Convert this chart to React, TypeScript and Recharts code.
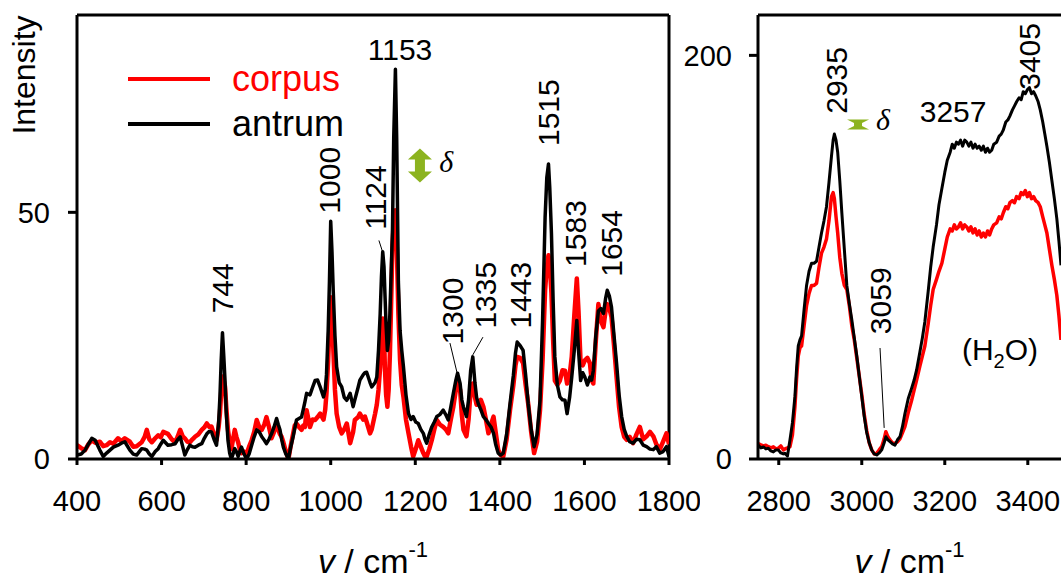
import React from 'react';
import { LineChart, Line, XAxis, YAxis, ReferenceLine, ReferenceDot, Legend } from 'recharts';

// ---------- Left panel (fingerprint region) ----------
const leftWavenumber = [
  400, 410, 419, 427, 435, 443, 454, 462, 470, 478, 486, 497, 505, 513, 525, 533, 541, 553, 560, 565,
  571, 577, 585, 592, 598, 604, 615, 624, 632, 638, 644, 650, 655, 661, 667, 673, 679, 687, 695, 701,
  707, 713, 718, 724, 730, 735, 738, 741, 744, 747, 750, 753, 757, 761, 765, 769, 773, 777, 781, 785,
  789, 795, 801, 807, 813, 819, 825, 831, 837, 843, 848, 854, 860, 866, 872, 876, 880, 884, 888, 894,
  900, 905, 911, 915, 919, 925, 931, 935, 939, 943, 951, 957, 963, 969, 975, 983, 987, 990, 994, 997,
  1000, 1003, 1006, 1010, 1014, 1020, 1026, 1032, 1038, 1046, 1053, 1057, 1065, 1069, 1077, 1081, 1085, 1093, 1097, 1105,
  1109, 1113, 1117, 1120, 1123, 1126, 1128, 1131, 1134, 1137, 1140, 1143, 1146, 1149, 1153, 1156, 1160, 1164, 1168, 1172,
  1178, 1184, 1190, 1195, 1201, 1207, 1213, 1219, 1223, 1227, 1233, 1239, 1245, 1251, 1258, 1266, 1272, 1278, 1284, 1290,
  1296, 1300, 1306, 1310, 1314, 1321, 1326, 1331, 1336, 1341, 1345, 1349, 1355, 1361, 1367, 1373, 1379, 1385, 1390, 1396,
  1402, 1408, 1416, 1424, 1432, 1437, 1441, 1448, 1455, 1461, 1467, 1474, 1481, 1488, 1495, 1501, 1507, 1511, 1515, 1518,
  1522, 1526, 1530, 1536, 1542, 1548, 1554, 1559, 1565, 1570, 1576, 1582, 1586, 1591, 1596, 1601, 1607, 1613, 1617, 1621,
  1627, 1633, 1639, 1645, 1650, 1654, 1659, 1664, 1670, 1676, 1682, 1688, 1694, 1700, 1707, 1715, 1723, 1731, 1739, 1747,
  1755, 1763, 1770, 1778, 1786, 1794, 1800,
];
const leftCorpus = [
  2.8, 2.2, 1.8, 3.0, 3.8, 3.3, 3.5, 2.6, 2.8, 3.4, 3.1, 4.2, 3.6, 4.2, 3.5, 2.5, 2.6, 3.4, 4.5, 5.9,
  4.0, 3.4, 4.2, 4.8, 4.4, 5.5, 5.1, 4.0, 3.4, 4.5, 5.9, 4.6, 4.2, 3.5, 3.4, 4.0, 4.5, 5.0, 5.9, 6.4,
  7.2, 6.5, 6.6, 5.0, 3.8, 6.5, 9.2, 13.5, 16.7, 16.0, 14.7, 10.5, 5.9, 3.5, 2.0, 4.0, 5.9, 4.5, 3.4, 2.0,
  1.2, 1.5, 1.0, 2.5, 3.8, 5.5, 7.9, 6.5, 5.9, 7.0, 8.5, 6.5, 4.2, 5.5, 7.2, 6.0, 5.0, 4.5, 3.4, 1.5,
  0.0, 2.5, 5.1, 6.8, 7.2, 6.5, 5.9, 6.8, 6.5, 9.9, 6.5, 8.0, 7.9, 8.5, 9.2, 8.0, 10.0, 13.3, 20.0, 27.0,
  32.8, 28.0, 22.7, 14.0, 9.2, 6.5, 5.2, 6.0, 7.2, 3.2, 5.5, 7.9, 8.5, 9.2, 8.0, 8.6, 7.5, 5.2, 6.0, 9.2,
  11.0, 14.0, 18.7, 25.0, 28.5, 26.0, 18.7, 13.0, 10.6, 14.0, 21.3, 32.0, 43.0, 48.5, 50.4, 44.0, 29.5, 20.0, 15.0, 12.6,
  8.0, 5.2, 2.5, 0.5, 2.0, 3.8, 2.5, 1.2, 0.5, 0.5, 2.0, 3.8, 6.0, 7.9, 7.0, 6.5, 6.0, 5.2, 8.0, 10.6,
  14.0, 16.0, 14.0, 9.0, 5.9, 4.6, 8.0, 14.0, 15.3, 12.5, 11.0, 11.2, 12.0, 10.6, 8.0, 5.2, 7.0, 8.6, 5.5, 1.9,
  0.8, 0.5, 4.0, 9.9, 15.0, 19.0, 20.7, 20.5, 19.4, 15.0, 11.2, 5.5, 1.2, 3.5, 9.9, 20.0, 34.2, 39.0, 41.3, 39.5,
  33.6, 24.0, 15.9, 15.0, 15.9, 18.0, 17.9, 15.3, 17.0, 20.7, 29.0, 36.6, 30.0, 19.4, 19.0, 20.0, 20.5, 19.4, 16.0, 15.3,
  24.0, 31.4, 28.0, 26.7, 30.0, 31.4, 30.5, 28.8, 23.0, 16.6, 10.5, 6.5, 4.5, 3.9, 4.5, 3.2, 5.0, 6.5, 4.0, 4.6,
  5.5, 4.6, 3.0, 1.9, 3.5, 5.2, 3.0,
];
const leftAntrum = [
  0.8, 1.0, 1.8, 3.0, 4.2, 3.8, 1.8, 0.5, 1.2, 1.8, 2.4, 2.8, 3.2, 3.5, 1.8, 1.0, 0.8, 2.1, 2.0, 1.8,
  1.0, 0.5, 1.5, 2.1, 3.0, 3.8, 2.8, 2.9, 3.1, 3.9, 4.5, 2.5, 0.8, 1.9, 2.8, 2.5, 2.4, 2.8, 3.1, 4.2,
  5.1, 5.6, 5.5, 4.0, 2.8, 7.5, 12.6, 20.0, 25.6, 21.0, 16.0, 9.5, 3.8, 1.2, 0.0, 1.0, 2.1, 1.5, 0.5, 1.5,
  2.4, 1.0, 0.0, 1.0, 2.8, 4.5, 5.9, 5.5, 4.5, 3.8, 3.1, 4.0, 5.1, 6.5, 8.2, 7.0, 5.9, 4.0, 2.4, 1.0,
  0.0, 2.2, 4.5, 6.2, 7.9, 8.2, 8.5, 10.0, 11.6, 13.3, 13.0, 14.5, 15.9, 16.0, 14.6, 12.6, 14.0, 17.1, 26.0, 36.0,
  48.2, 42.0, 34.0, 25.0, 18.7, 15.5, 14.6, 12.5, 11.9, 13.3, 10.6, 12.0, 14.6, 16.0, 17.1, 17.5, 17.6, 15.5, 14.6, 15.5,
  16.6, 22.0, 29.5, 37.0, 42.0, 39.0, 34.0, 27.0, 22.0, 24.0, 29.5, 38.0, 46.0, 65.0, 79.0, 65.0, 36.0, 26.0, 22.0, 18.7,
  13.0, 9.2, 8.0, 8.6, 7.5, 7.2, 6.0, 5.2, 4.0, 3.2, 5.0, 6.5, 7.5, 8.6, 9.0, 9.9, 9.0, 7.9, 10.5, 13.3,
  16.0, 17.4, 15.3, 12.0, 10.5, 8.6, 12.0, 18.0, 20.7, 15.5, 12.5, 11.2, 10.0, 8.6, 8.0, 7.2, 6.5, 5.2, 3.0, 1.2,
  0.8, 1.2, 5.0, 11.2, 17.0, 21.5, 23.7, 23.0, 22.0, 17.0, 11.2, 6.0, 2.5, 5.0, 11.9, 28.0, 49.0, 57.0, 59.8, 55.0,
  45.7, 32.0, 20.7, 15.0, 12.6, 12.0, 11.9, 9.2, 12.5, 16.6, 22.0, 28.1, 22.0, 15.9, 17.5, 16.6, 15.0, 16.6, 16.0, 17.9,
  25.0, 30.0, 30.5, 29.5, 32.5, 34.2, 33.0, 30.8, 25.0, 19.4, 13.0, 8.6, 6.0, 4.6, 3.5, 3.2, 4.0, 3.9, 2.8, 2.5,
  2.0, 1.9, 2.5, 1.2, 1.5, 2.5, 0.5,
];

// ---------- Right panel (high wavenumber region) ----------
const rightWavenumber = [
  2750, 2757, 2763, 2769, 2775, 2781, 2787, 2793, 2799, 2805, 2811, 2815, 2821, 2827, 2833, 2839, 2843, 2847, 2851, 2855,
  2861, 2867, 2873, 2879, 2885, 2891, 2897, 2903, 2909, 2915, 2921, 2927, 2931, 2934, 2938, 2942, 2947, 2952, 2958, 2964,
  2970, 2976, 2982, 2988, 2994, 3000, 3006, 3012, 3018, 3024, 3030, 3036, 3042, 3048, 3054, 3058, 3063, 3068, 3074, 3080,
  3086, 3092, 3098, 3104, 3112, 3120, 3126, 3132, 3140, 3146, 3152, 3160, 3166, 3172, 3180, 3186, 3193, 3200, 3206, 3213,
  3218, 3223, 3228, 3233, 3238, 3243, 3248, 3253, 3258, 3263, 3268, 3273, 3278, 3283, 3288, 3293, 3298, 3303, 3308, 3313,
  3318, 3325, 3331, 3336, 3341, 3347, 3352, 3357, 3363, 3368, 3373, 3379, 3384, 3389, 3394, 3399, 3404, 3409, 3414, 3419,
  3425, 3430, 3436, 3441, 3446, 3452, 3458, 3464, 3470, 3475, 3480,
];
const rightCorpus = [
  7.7, 7.0, 6.5, 6.8, 6.1, 5.5, 6.0, 5.0, 5.3, 6.5, 4.5, 5.0, 5.5, 6.1, 12, 26, 40, 51, 55, 56,
  66, 76, 82, 86, 86, 87, 95, 102, 105, 109, 118, 130, 132, 129, 120, 112, 100, 92, 86, 84,
  76, 66, 59, 50, 41, 32, 22, 14, 8, 4.5, 2.5, 2.8, 4.5, 6.1, 10, 13.5, 11, 9.4, 8, 7.7,
  8.5, 10, 13, 16, 23, 29, 34, 39, 46, 51, 56, 67, 76, 84, 89, 93, 97, 104, 110, 114,
  113, 116, 114, 115, 117, 114, 116, 115, 113, 115, 112, 114, 111, 113, 110, 112, 110, 113, 111, 114,
  116, 117, 120, 119, 122, 125, 124, 127, 128, 127, 130, 129, 132, 131, 133, 130, 132, 129, 130, 128,
  127, 125, 120, 116, 112, 104, 96, 89, 81, 71, 59,
];
const rightAntrum = [
  6.9, 5.5, 6.0, 5.0, 5.3, 4.0, 3.5, 4.5, 4.5, 3.0, 2.5, 2.8, 1.5, 9.4, 18, 31, 45, 56, 59, 61,
  74, 86, 93, 97, 97, 98, 105, 112, 118, 125, 137, 150, 158, 161, 158, 152, 138, 122, 104, 86,
  77, 69, 60, 51, 41, 31, 21, 13, 8, 4.5, 2.5, 2.0, 3.0, 4.5, 8, 11, 9.5, 8.6, 7.5, 6.9,
  9.5, 11, 16, 22.5, 30, 35, 39, 44, 53, 60, 68, 83, 95, 105, 116, 126, 134, 142, 148, 152,
  156, 154, 157, 156, 158, 155, 158, 157, 155, 157, 154, 156, 154, 155, 153, 155, 152, 154, 152, 153,
  156, 157, 160, 161, 163, 167, 168, 170, 173, 175, 177, 179, 178, 182, 181, 183, 184, 181, 182, 180,
  177, 173, 167, 161, 155, 147, 138, 129, 119, 108, 96,
];

// ---------- Axes ----------
const leftXTicks = [400, 600, 800, 1000, 1200, 1400, 1600, 1800];
const leftYTicks = [0, 50];
const rightXTicks = [2800, 3000, 3200, 3400];
const rightYTicks = [0, 200];
const seriesOrder = ['corpus', 'antrum'];

// ---------- Annotations (data coordinates) ----------
const leftPeakLabels = [
  { text: '744', x: 745, y: 34.6, rotate: true },
  { text: '1000', x: 996, y: 56.5, rotate: true },
  { text: '1124', x: 1107, y: 53, rotate: true },
  { text: '1153', x: 1164, y: 83, rotate: false },
  { text: '1300', x: 1289, y: 30, rotate: true },
  { text: '1335', x: 1367, y: 33.2, rotate: true },
  { text: '1443', x: 1448, y: 33.2, rotate: true },
  { text: '1515', x: 1514, y: 70.2, rotate: true },
  { text: '1583', x: 1578, y: 45.7, rotate: true },
  { text: '1654', x: 1665, y: 43.7, rotate: true },
];
const leftLeaders = [
  { x1: 1114, y1: 44.3, x2: 1123, y2: 41.9 },
  { x1: 1282, y1: 23.5, x2: 1299, y2: 17.4 },
  { x1: 1360, y1: 24.7, x2: 1336, y2: 21.1 },
];
const rightPeakLabels = [
  { text: '2935', x: 2938, y: 187.6, rotate: true },
  { text: '3257', x: 3220, y: 172, rotate: false },
  { text: '3405', x: 3405, y: 199.5, rotate: true },
  { text: '3059', x: 3044, y: 78.4, rotate: true },
];
const rightLeaders = [{ x1: 3044, y1: 55, x2: 3054, y2: 15.4 }];
const leftDelta = { arrowX: 1211, arrowY: 59.5, textX: 1273, textY: 60.3 };
const rightDelta = { arrowX: 2991, arrowY: 165.8, textX: 3051, textY: 168 };
const waterLabel = { x: 3333, y: 54 };

const leftData = leftWavenumber.map((v, i) => ({ v, corpus: leftCorpus[i], antrum: leftAntrum[i] }));
const rightData = rightWavenumber.map((v, i) => ({ v, corpus: rightCorpus[i], antrum: rightAntrum[i] }));

const SANS = '"Liberation Sans", Arial, sans-serif';
const SERIF = '"Liberation Serif", "DejaVu Serif", serif';
const GREEN = '#8cb31f';
const TICK_FONT = 29;
const LABEL_FONT = 30;

const PeakText = (props: any) => {
  const { cx, cy, text, rotate } = props;
  if (cx == null || cy == null) return null;
  return (
    <text
      x={cx}
      y={cy}
      textAnchor="middle"
      dominantBaseline="central"
      fontSize={LABEL_FONT}
      fill="#000"
      fontFamily={SANS}
      transform={rotate ? `rotate(-90 ${cx} ${cy})` : undefined}
    >
      {text}
    </text>
  );
};

const BigArrow = (props: any) => {
  const { cx, cy } = props;
  const pts = [
    [cx, cy - 17], [cx + 12, cy - 6], [cx + 5, cy - 6], [cx + 5, cy + 6], [cx + 12, cy + 6],
    [cx, cy + 17], [cx - 12, cy + 6], [cx - 5, cy + 6], [cx - 5, cy - 6], [cx - 12, cy - 6],
  ];
  return <polygon points={pts.map((p) => p.join(',')).join(' ')} fill={GREEN} />;
};

const SmallArrow = (props: any) => {
  const { cx, cy } = props;
  const pts = [
    [cx - 11, cy - 5], [cx + 11, cy - 5], [cx + 4, cy - 1.5], [cx + 4, cy + 1.5],
    [cx + 11, cy + 5], [cx - 11, cy + 5], [cx - 4, cy + 1.5], [cx - 4, cy - 1.5],
  ];
  return <polygon points={pts.map((p) => p.join(',')).join(' ')} fill={GREEN} />;
};

const DeltaText = (props: any) => {
  const { cx, cy } = props;
  return (
    <text x={cx} y={cy} textAnchor="middle" dominantBaseline="central" fontSize={30} fontStyle="italic" fontFamily={SERIF} fill="#000">
      δ
    </text>
  );
};

const WaterText = (props: any) => {
  const { cx, cy } = props;
  return (
    <text x={cx} y={cy + 10} textAnchor="middle" fontSize={30} fontFamily={SANS} fill="#000">
      <tspan>(H</tspan>
      <tspan fontSize={20} dy={8}>2</tspan>
      <tspan dy={-8}>O)</tspan>
    </text>
  );
};

const XTitle = (props: any) => {
  const vb = props.viewBox || {};
  const cx = vb.x + vb.width / 2;
  const y = vb.y + 114;
  return (
    <text x={cx} y={y} textAnchor="middle" fontSize={34} fontFamily={SANS} fill="#000">
      <tspan fontStyle="italic">v</tspan>
      <tspan> / cm</tspan>
      <tspan fontSize={22} dy={-16}>-1</tspan>
    </text>
  );
};

const YTitle = (props: any) => {
  const vb = props.viewBox || {};
  const x = vb.x + 24;
  const y = vb.y + 60;
  return (
    <text x={x} y={y} textAnchor="middle" dominantBaseline="central" fontSize={32} fontFamily={SANS} fill="#000" transform={`rotate(-90 ${x} ${y})`}>
      Intensity
    </text>
  );
};

const LegendContent = (props: any) => {
  const payload = props.payload || [];
  const items = seriesOrder
    .map((name) => payload.find((p: any) => p.value === name))
    .filter(Boolean);
  return (
    <div style={{ fontFamily: SANS }}>
      {items.map((item: any) => (
        <div key={item.value} style={{ display: 'flex', alignItems: 'center', height: 45 }}>
          <span style={{ display: 'inline-block', width: 82, height: 4, background: item.color }} />
          <span style={{ marginLeft: 22, fontSize: 36, color: item.color, lineHeight: '45px' }}>{item.value}</span>
        </div>
      ))}
    </div>
  );
};

const axisStroke = { stroke: '#000', strokeWidth: 3 };

export default function App() {
  return (
    <div
      style={{
        position: 'absolute',
        left: 0,
        top: 0,
        width: 1061,
        height: 585,
        overflow: 'hidden',
        background: '#fff',
        fontFamily: SANS,
      }}
    >
      <div style={{ position: 'absolute', left: 0, top: 0 }}>
        <LineChart width={700} height={585} data={leftData} margin={{ top: 15, right: 31, bottom: 0, left: 0 }}>
          <XAxis
            dataKey="v"
            type="number"
            domain={[400, 1800]}
            ticks={leftXTicks}
            interval={0}
            allowDataOverflow
            height={126}
            tickSize={6}
            tickMargin={25}
            axisLine={axisStroke}
            tickLine={axisStroke}
            tick={{ fill: '#000', fontSize: TICK_FONT }}
            label={<XTitle />}
          />
          <YAxis
            type="number"
            domain={[0, 90]}
            ticks={leftYTicks}
            interval={0}
            allowDataOverflow
            width={77}
            tickSize={9}
            tickMargin={18}
            axisLine={axisStroke}
            tickLine={axisStroke}
            tick={{ fill: '#000', fontSize: TICK_FONT }}
            label={<YTitle />}
          />
          <ReferenceLine y={90} stroke="#000" strokeWidth={3} />
          <ReferenceLine x={1800} stroke="#000" strokeWidth={3} />
          <Line type="linear" dataKey="corpus" name="corpus" stroke="#ff0000" strokeWidth={4.5} dot={false} isAnimationActive={false} strokeLinejoin="round" />
          <Line type="linear" dataKey="antrum" name="antrum" stroke="#000000" strokeWidth={3.5} dot={false} isAnimationActive={false} strokeLinejoin="round" />
          {leftLeaders.map((l, i) => (
            <ReferenceLine key={'ll' + i} segment={[{ x: l.x1, y: l.y1 }, { x: l.x2, y: l.y2 }]} stroke="#000" strokeWidth={1} />
          ))}
          {leftPeakLabels.map((p) => (
            <ReferenceDot key={p.text} x={p.x} y={p.y} r={0} shape={(s: any) => <PeakText {...s} text={p.text} rotate={p.rotate} />} />
          ))}
          <ReferenceDot x={leftDelta.arrowX} y={leftDelta.arrowY} r={0} shape={(s: any) => <BigArrow {...s} />} />
          <ReferenceDot x={leftDelta.textX} y={leftDelta.textY} r={0} shape={(s: any) => <DeltaText {...s} />} />
          <Legend
            layout="vertical"
            align="center"
            verticalAlign="middle"
            content={<LegendContent />}
            wrapperStyle={{ position: 'absolute', left: 128, top: 56, width: 260, height: 90 }}
          />
        </LineChart>
      </div>
      <div style={{ position: 'absolute', left: 640, top: 0 }}>
        <LineChart width={421} height={585} data={rightData} margin={{ top: 15, right: 0, bottom: 0, left: 0 }}>
          <XAxis
            dataKey="v"
            type="number"
            domain={[2750, 3480]}
            ticks={rightXTicks}
            interval={0}
            allowDataOverflow
            height={126}
            tickSize={6}
            tickMargin={25}
            axisLine={axisStroke}
            tickLine={axisStroke}
            tick={{ fill: '#000', fontSize: TICK_FONT }}
            label={<XTitle />}
          />
          <YAxis
            type="number"
            domain={[0, 220]}
            ticks={rightYTicks}
            interval={0}
            allowDataOverflow
            width={118}
            tickSize={9}
            tickMargin={17}
            axisLine={axisStroke}
            tickLine={axisStroke}
            tick={{ fill: '#000', fontSize: TICK_FONT }}
          />
          <ReferenceLine y={220} stroke="#000" strokeWidth={3} />
          <Line type="linear" dataKey="corpus" name="corpus" stroke="#ff0000" strokeWidth={3.5} dot={false} isAnimationActive={false} strokeLinejoin="round" />
          <Line type="linear" dataKey="antrum" name="antrum" stroke="#000000" strokeWidth={3} dot={false} isAnimationActive={false} strokeLinejoin="round" />
          {rightLeaders.map((l, i) => (
            <ReferenceLine key={'rl' + i} segment={[{ x: l.x1, y: l.y1 }, { x: l.x2, y: l.y2 }]} stroke="#000" strokeWidth={1} />
          ))}
          {rightPeakLabels.map((p) => (
            <ReferenceDot key={p.text} x={p.x} y={p.y} r={0} shape={(s: any) => <PeakText {...s} text={p.text} rotate={p.rotate} />} />
          ))}
          <ReferenceDot x={rightDelta.arrowX} y={rightDelta.arrowY} r={0} shape={(s: any) => <SmallArrow {...s} />} />
          <ReferenceDot x={rightDelta.textX} y={rightDelta.textY} r={0} shape={(s: any) => <DeltaText {...s} />} />
          <ReferenceDot x={waterLabel.x} y={waterLabel.y} r={0} shape={(s: any) => <WaterText {...s} />} />
        </LineChart>
      </div>
    </div>
  );
}
